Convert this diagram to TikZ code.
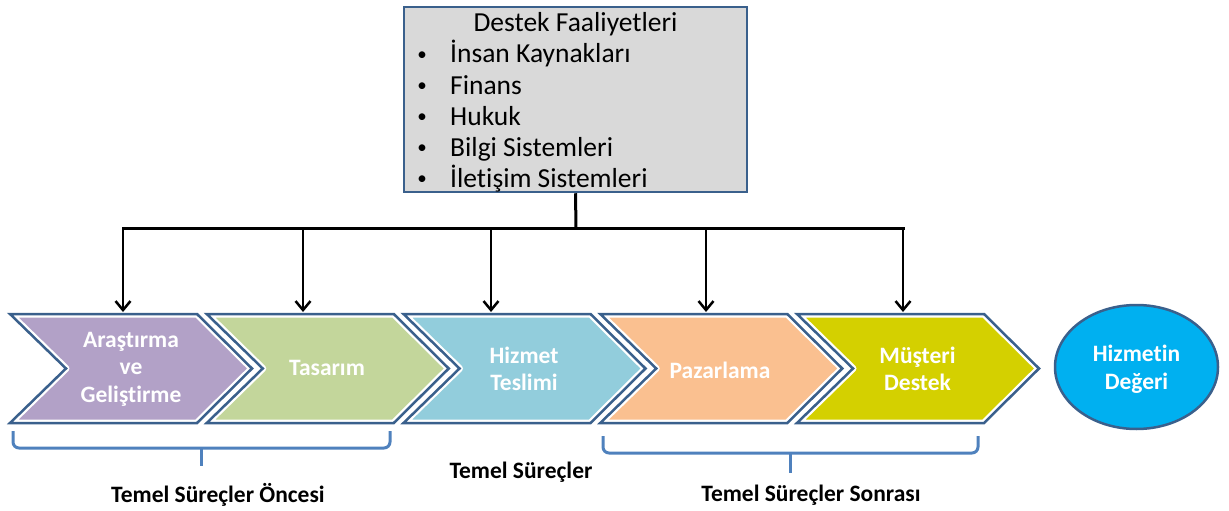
\documentclass[tikz,border=0pt]{standalone}
\usepackage{fontspec}
\setmainfont{Carlito}[Ligatures=NoCommon]
\usetikzlibrary{arrows.meta,shapes.geometric}
\definecolor{bordblue}{RGB}{58,96,140}
\definecolor{graybox}{RGB}{217,217,217}
\definecolor{cpurple}{RGB}{178,161,199}
\definecolor{cgreen}{RGB}{195,214,155}
\definecolor{cblue}{RGB}{146,205,220}
\definecolor{corange}{RGB}{250,192,144}
\definecolor{cyellow}{RGB}{212,208,0}
\definecolor{ccyan}{RGB}{0,176,240}
\definecolor{bracecol}{RGB}{79,129,189}
\newcommand\mychev[3]{%
  \path[fill=#2, draw=white, line width=7pt, line join=round]
    (#1,314) -- ({#1+187},314) -- ({#1+242},368.5) -- ({#1+187},423) -- (#1,423) -- ({#1+56},368.5) -- cycle;
  \draw[bordblue, line width=2.5pt, line join=miter]
    (#1,314) -- ({#1+187},314) -- ({#1+242},368.5) -- ({#1+187},423) -- (#1,423) -- ({#1+56},368.5) -- cycle;
  \coordinate (#3) at ({#1+121},368.5);
}
\tikzset{
  graytext/.style={font=\fontsize{27.5}{31}\selectfont, inner sep=0pt, anchor=base west},
  bullettext/.style={font=\fontsize{19}{31}\selectfont, inner sep=0pt},
  chevtext/.style={font=\fontsize{23.5}{27.5}\selectfont\bfseries, text=white, align=center, inner sep=0pt},
  labeltext/.style={font=\fontsize{23.5}{26}\selectfont\bfseries, text=black, inner sep=0pt},
  conn/.style={line width=3pt, black},
  arr/.style={line width=2.5pt, black, -{Straight Barb[length=9pt,width=15pt,line width=2.5pt]}},
  bracestyle/.style={line width=3pt, bracecol, rounded corners=6pt}
}
\begin{document}
\begin{tikzpicture}[x=1pt,y=-1pt]
\useasboundingbox (0,0) rectangle (1229,511);
% support box
\node[draw=bordblue, line width=2.5pt, fill=graybox, minimum width=343pt, minimum height=185pt, inner sep=0pt] (destek) at (575.5,99.5) {};
\node[font=\fontsize{27.5}{31}\selectfont, inner sep=0pt, anchor=base] (title) at (575.5,32) {Destek Faaliyetleri};
\foreach \t [count=\i] in {İnsan Kaynakları, Finans, Hukuk, Bilgi Sistemleri, İletişim Sistemleri}{
  \node[bullettext] (b\i) at (422,{25+31*\i}) {•};
  \node[graytext] (l\i) at (450,{32+31*\i}) {\t};
}
% chevrons
\mychev{10}{cpurple}{c1}
\mychev{206.75}{cgreen}{c2}
\mychev{403.5}{cblue}{c3}
\mychev{600.25}{corange}{c4}
\mychev{797}{cyellow}{c5}
\node[chevtext] (n1) at (131,369) {Araştırma\\ve\\Geliştirme};
\node[chevtext] (n2) at (327,368) {Tasarım};
\node[chevtext] (n3) at (524,369) {Hizmet\\Teslimi};
\node[chevtext] (n4) at (720,370) {Pazarlama};
\node[chevtext] (n5) at (917.5,369) {Müşteri\\Destek};
% value ellipse
\node[ellipse, draw=bordblue, line width=2.5pt, fill=ccyan, minimum width=163pt, minimum height=124pt, inner sep=0pt] (deger) at (1136.5,367) {};
\node[chevtext] (degert) at (1136.5,369) {Hizmetin\\Değeri};
% connectors
\coordinate (j) at (576,228);
\coordinate (h1) at (123,228);
\coordinate (h2) at (303,228);
\coordinate (h3) at (491,228);
\coordinate (h4) at (706,228);
\coordinate (h5) at (903,228);
\coordinate (t1) at (123,312);
\coordinate (t2) at (303,312);
\coordinate (t3) at (491,312);
\coordinate (t4) at (706,312);
\coordinate (t5) at (903,312);
\draw[conn] (destek.south) -- (j);
\draw[conn, line cap=rect] (h1) -- (h5);
\foreach \i in {1,...,5}{ \draw[arr] (h\i) -- (t\i); }
% braces
\draw[bracestyle] (13,431) -- (13,448) -- (390,448) -- (390,431);
\draw[line width=3pt, bracecol] (201,447) -- (201,466);
\draw[bracestyle] (603,436) -- (603,453) -- (978,453) -- (978,436);
\draw[line width=3pt, bracecol] (790,452) -- (790,473);
% labels
\node[labeltext] (lab1) at (218,495) {Temel Süreçler Öncesi};
\node[labeltext] (lab2) at (521,472) {Temel Süreçler};
\node[labeltext] (lab3) at (811,495) {Temel Süreçler Sonrası};
\end{tikzpicture}
\end{document}
